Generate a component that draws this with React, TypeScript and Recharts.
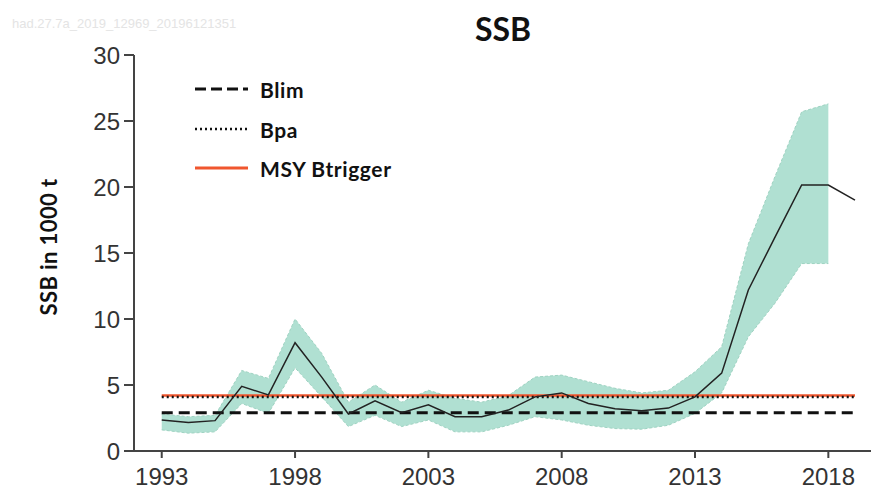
import React from 'react'
import { Area, ComposedChart, Line, ReferenceLine, XAxis, YAxis } from 'recharts'

const years = [
  1993, 1994, 1995, 1996, 1997, 1998, 1999, 2000, 2001, 2002, 2003, 2004, 2005, 2006,
  2007, 2008, 2009, 2010, 2011, 2012, 2013, 2014, 2015, 2016, 2017, 2018, 2019,
]
const ssb = [
  2.35, 2.15, 2.3, 4.9, 4.25, 8.2, 5.6, 2.8, 3.8, 2.9, 3.5, 2.6, 2.6, 3.1,
  4.1, 4.4, 3.6, 3.2, 3.05, 3.25, 4.1, 5.9, 12.2, 16.2, 20.15, 20.15, 19.0,
]
const high = [
  2.8, 2.6, 2.7, 6.1, 5.5, 10.0, 7.4, 3.7, 5.0, 3.7, 4.6, 4.0, 3.7, 4.2,
  5.6, 5.75, 5.25, 4.75, 4.4, 4.6, 6.0, 7.9, 15.7, 20.8, 25.7, 26.3, null,
]
const low = [
  1.6, 1.35, 1.45, 3.6, 2.85, 6.3, 4.1, 1.85, 2.7, 1.85, 2.35, 1.45, 1.45, 1.95,
  2.6, 2.35, 1.95, 1.7, 1.65, 1.95, 2.85, 4.4, 8.65, 11.2, 14.2, 14.2, null,
]
const xTicks = [1993, 1998, 2003, 2008, 2013, 2018]
const yTicks = [0, 5, 10, 15, 20, 25, 30]
const blim = 2.9
const bpa = 4.1
const msyBtrigger = 4.2
const refStart = 1993
const refEnd = 2019

const data = years.map((year, i) => ({
  year,
  ssb: ssb[i],
  band: low[i] == null || high[i] == null ? null : [low[i], high[i]],
}))

const boldFont = 'Lato, "Open Sans", sans-serif'
const tickFont = '"Liberation Sans", Arial, sans-serif'

function LegendRow({ top, dash, color, width, label }: { top: number; dash?: string; color: string; width: number; label: string }) {
  return (
    <div style={{ position: 'absolute', left: 195, top: top - 13, height: 26, display: 'flex', alignItems: 'center' }}>
      <svg width={54} height={10}>
        <line x1={0} y1={5} x2={53} y2={5} stroke={color} strokeWidth={width} strokeDasharray={dash} />
      </svg>
      <span style={{ marginLeft: 11, fontFamily: boldFont, fontWeight: 700, fontSize: 21, letterSpacing: 0.6, color: '#111' }}>{label}</span>
    </div>
  )
}

export default function App() {
  return (
    <div style={{ position: 'absolute', left: 0, top: 0, width: 872, height: 493, background: '#fff' }}>
      <div style={{ position: 'absolute', left: 12, top: 16, fontFamily: tickFont, fontSize: 13, color: '#e4e4e4' }}>
        had.27.7a_2019_12969_20196121351
      </div>
      <div style={{ position: 'absolute', left: 0, width: 1006, top: 9, textAlign: 'center', fontFamily: boldFont, fontWeight: 700, fontSize: 32, color: '#111' }}>
        SSB
      </div>
      <div
        style={{
          position: 'absolute',
          left: 48,
          top: 247,
          transform: 'translate(-50%, -50%) rotate(-90deg)',
          whiteSpace: 'nowrap',
          fontFamily: boldFont,
          fontWeight: 700,
          fontSize: 22,
          letterSpacing: 0.4,
          color: '#111',
        }}
      >
        SSB in 1000 t
      </div>
      <ComposedChart width={872} height={493} data={data} margin={{ top: 55, right: 1, bottom: 0, left: 0 }}>
        <XAxis
          dataKey="year"
          type="number"
          domain={[1991.96, 2019.6]}
          allowDataOverflow
          ticks={xTicks}
          height={42}
          tickSize={7}
          tickMargin={10}
          stroke="#444"
          strokeWidth={2}
          tick={{ fontSize: 24, fill: '#333', fontFamily: tickFont }}
        />
        <YAxis
          type="number"
          domain={[0, 30]}
          ticks={yTicks}
          width={134}
          tickSize={10}
          tickMargin={4}
          stroke="#444"
          strokeWidth={2}
          tick={{ fontSize: 24, fill: '#333', fontFamily: tickFont }}
        />
        <Area
          dataKey="band"
          type="linear"
          fill="#b0e0d2"
          fillOpacity={1}
          stroke="#9fd3c2"
          strokeDasharray="3 2"
          strokeWidth={1}
          isAnimationActive={false}
          connectNulls={false}
        />
        <ReferenceLine
          segment={[{ x: refStart, y: msyBtrigger }, { x: refEnd, y: msyBtrigger }]}
          stroke="#f0562e"
          strokeWidth={2.5}
        />
        <ReferenceLine
          segment={[{ x: refStart, y: bpa }, { x: refEnd, y: bpa }]}
          stroke="#111"
          strokeWidth={2.5}
          strokeDasharray="2 3"
        />
        <ReferenceLine
          segment={[{ x: refStart, y: blim }, { x: refEnd, y: blim }]}
          stroke="#111"
          strokeWidth={3}
          strokeDasharray="11 6"
        />
        <Line dataKey="ssb" type="linear" stroke="#222" strokeWidth={1.5} dot={false} isAnimationActive={false} />
      </ComposedChart>
      <LegendRow top={89} color="#111" width={3} dash="11 5" label="Blim" />
      <LegendRow top={129} color="#111" width={2.5} dash="2 3" label="Bpa" />
      <LegendRow top={168} color="#f0562e" width={3} label="MSY Btrigger" />
    </div>
  )
}
